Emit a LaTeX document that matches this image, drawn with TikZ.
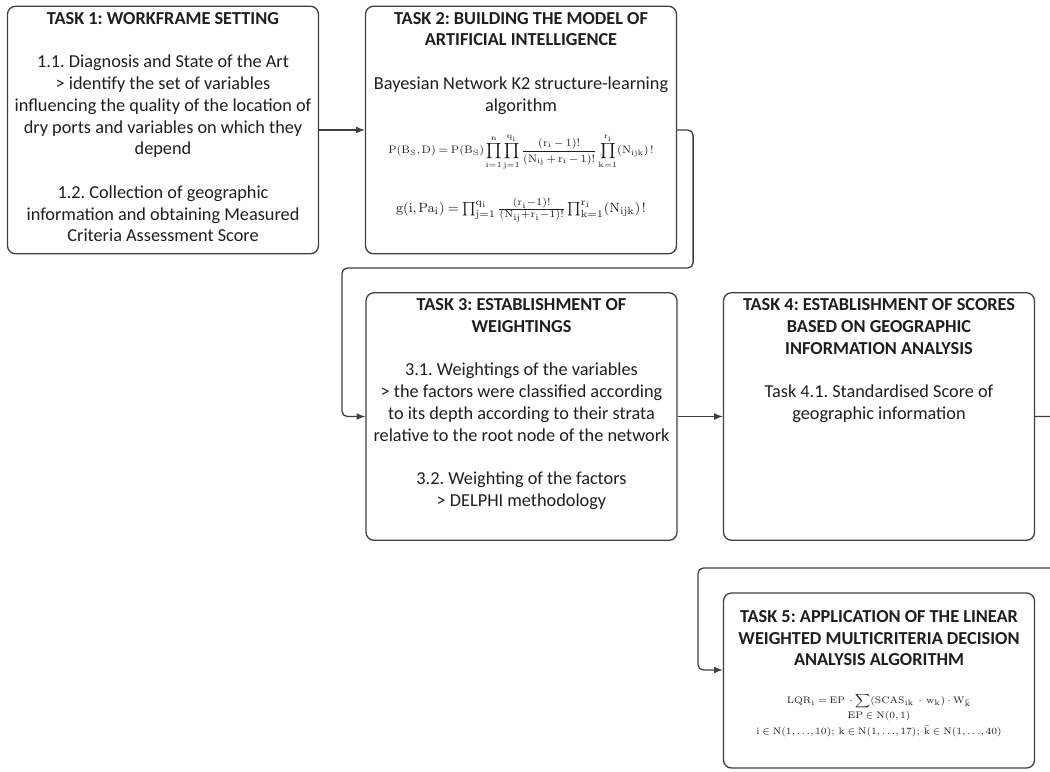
\documentclass[tikz,border=0pt]{standalone}
\usepackage[no-math]{fontspec}
\setmainfont{Carlito}
\usepackage{amsmath}
\usetikzlibrary{arrows,positioning}
\definecolor{boxgray}{HTML}{404040}
\definecolor{inkgray}{HTML}{1E1E1E}
\frenchspacing
\newcommand{\narrowmath}{\thickmuskip=4mu plus 1mu\medmuskip=3mu plus 1mu\thinmuskip=2mu}

\begin{document}
\begin{tikzpicture}[x=0.02cm, y=-0.02cm]
    \tikzstyle{TaskBox}=[draw = boxgray, line width = 0.75pt, rounded corners = 4.5pt, minimum width = 6.22cm, minimum height = 4.95cm, inner sep = 0pt]
    \tikzstyle{TaskText}=[align = center, inner sep = 0pt, text = inkgray, font = \fontsize{10.4}{12.4}\selectfont]
    \tikzstyle{Formula}=[align = center, inner sep = 0pt, text = inkgray]
    \tikzstyle{Link}=[draw = boxgray, line width = 0.75pt, rounded corners = 3pt, -latex]
    \useasboundingbox (0,0) rectangle (1050,771);
    \clip (0,0) rectangle (1050,771);
    % task boxes
    \node[TaskBox] (T1) at (163,130) {};
    \node[TaskBox] (T2) at (521,130) {};
    \node[TaskBox] (T3) at (521.5,416.5) {};
    \node[TaskBox] (T4) at (879,416.5) {};
    \node[TaskBox, minimum height = 3.5cm] (T5) at (879,680.5) {};
    % texts
    \node[TaskText, below = 3.5pt of T1.north] (T1text) {\textbf{TASK 1: WORKFRAME SETTING}\\[12.4pt]
        1.1. Diagnosis and State of the Art\\
        > identify the set of variables\\
        influencing the quality of the location of\\
        dry ports and variables on which they\\
        depend\\[12.4pt]
        1.2. Collection of geographic\\
        information and obtaining Measured\\
        Criteria Assessment Score};
    \node[TaskText, below = 3.5pt of T2.north] (T2text) {\textbf{TASK 2: BUILDING THE MODEL OF}\\
        \textbf{ARTIFICIAL INTELLIGENCE}\\[12.4pt]
        Bayesian Network K2 structure-learning\\
        algorithm};
    \node[TaskText, below = 3.5pt of T3.north] (T3text) {\textbf{TASK 3: ESTABLISHMENT OF}\\
        \textbf{WEIGHTINGS}\\[12.4pt]
        3.1. Weightings of the variables\\
        > the factors were classified according\\
        to its depth according to their strata\\
        relative to the root node of the network\\[12.4pt]
        3.2. Weighting of the factors\\
        > DELPHI methodology};
    \node[TaskText, below = 3.5pt of T4.north] (T4text) {\textbf{TASK 4: ESTABLISHMENT OF SCORES}\\
        \textbf{BASED ON GEOGRAPHIC}\\
        \textbf{INFORMATION ANALYSIS}\\[12.4pt]
        Task 4.1. Standardised Score of\\
        geographic information};
    \node[TaskText, below = 10pt of T5.north] (T5text) {\textbf{TASK 5: APPLICATION OF THE LINEAR}\\
        \textbf{WEIGHTED MULTICRITERIA DECISION}\\
        \textbf{ANALYSIS ALGORITHM}};
    % formulas
    \node[Formula, font = \fontsize{7}{8.4}\selectfont] (K2) at (521,152) {\scalebox{0.88}{$\displaystyle\narrowmath\mathrm{P(B_S,D)=P(B_S)\prod_{i=1}^{n}\prod_{j=1}^{q_i}\frac{(r_i-1)!}{(N_{ij}+r_i-1)!}\prod_{k=1}^{r_i}(N_{ijk})\,!}$}};
    \node[Formula, font = \fontsize{8}{9.6}\selectfont] (Score) at (521,210) {\scalebox{0.955}{$\narrowmath\mathrm{g(i,Pa_i)=\prod_{j=1}^{q_i}\frac{(r_i-1)!}{(N_{ij}+r_i-1)!}\prod_{k=1}^{r_i}(N_{ijk})\,!}$}};
    \node[Formula, font = \fontsize{6}{8.8}\selectfont] (LQR) at (879,716) {\scalebox{0.9}{\begin{tabular}{@{}c@{}}
        $\narrowmath\mathrm{LQR_i = EP\ \cdot\displaystyle\sum(SCAS_{ik}\ \cdot\ w_k)\cdot W_{\bar k}}$\\[1pt]
        $\narrowmath\mathrm{EP\in N(0,1)}$\\[1pt]
        $\narrowmath\mathrm{i\in N(1,{\ldots},10);\; k\in N(1,{\ldots},17);\; \bar k\in N(1,{\ldots},40)}$
        \end{tabular}}};
    % connectors
    \draw[Link] (T1) -- (T2);
    \draw[Link] (T2.east) -- ++(16,0) |- (342,268) |- (T3.west);
    \draw[Link] (T3) -- (T4);
    \draw[Link] (T4.east) -- ++(40,0) |- (698,568) |- ([yshift=6pt]T5.west);
\end{tikzpicture}
\end{document}
